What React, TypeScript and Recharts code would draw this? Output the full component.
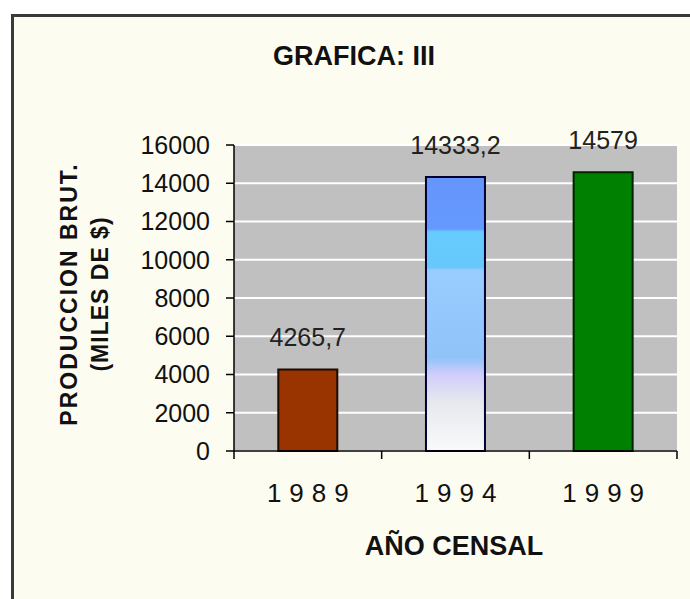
import { Bar, BarChart, CartesianGrid, Cell, LabelList, XAxis, YAxis } from "recharts";

const years = ["1989", "1994", "1999"];
const production = [4265.7, 14333.2, 14579];
const yTicks = [0, 2000, 4000, 6000, 8000, 10000, 12000, 14000, 16000];
const barFills = ["#993300", "url(#bar1994)", "#008000"];
const barStrokes = ["#1a0a00", "#000033", "#002200"];

const data = years.map((year, i) => ({ year, value: production[i] }));

const FONT = "'Liberation Sans', Arial, sans-serif";

function YearTick(props: any) {
  const { x, y, payload, index } = props;
  const half = payload.offset ?? 0;
  const axisY = y - 8;
  return (
    <g>
      <line x1={x - half} x2={x - half} y1={axisY} y2={axisY + 8} stroke="#000" strokeWidth={1.5} />
      {index === years.length - 1 && (
        <line x1={x + half} x2={x + half} y1={axisY} y2={axisY + 8} stroke="#000" strokeWidth={1.5} />
      )}
      <text
        x={x + 4}
        y={axisY + 51}
        textAnchor="middle"
        fontFamily={FONT}
        fontSize={26}
        letterSpacing={8}
        fill="#111"
      >
        {payload.value}
      </text>
    </g>
  );
}

export default function App() {
  return (
    <div style={{ position: "absolute", left: 0, top: 0, width: 690, height: 599, overflow: "hidden", background: "#fff" }}>
      <div
        style={{
          position: "absolute",
          left: 11,
          top: 14,
          width: 720,
          height: 640,
          border: "3px solid #3a3a3a",
          background: "#fdfcf1",
          boxSizing: "border-box",
        }}
      />
      <div style={{ position: "absolute", left: 0, top: 0 }}>
        <BarChart
          width={690}
          height={599}
          data={data}
          margin={{ top: 145, right: 13, bottom: 88, left: 0 }}
          barCategoryGap="30%"
        >
          <defs>
            <linearGradient id="bar1994" x1="0" y1="0" x2="0" y2="1">
              <stop offset="0" stopColor="#6495fa" />
              <stop offset="0.19" stopColor="#6699ff" />
              <stop offset="0.2" stopColor="#66ccff" />
              <stop offset="0.33" stopColor="#66c8fb" />
              <stop offset="0.34" stopColor="#99ccff" />
              <stop offset="0.66" stopColor="#90c4f8" />
              <stop offset="0.72" stopColor="#d0cdfb" />
              <stop offset="0.82" stopColor="#e6e8ee" />
              <stop offset="1" stopColor="#fafafa" />
            </linearGradient>
          </defs>
          <CartesianGrid vertical={false} stroke="#fff" strokeWidth={2} fill="#c0c0c0" />
          <XAxis
            dataKey="year"
            height={60}
            axisLine={{ stroke: "#000", strokeWidth: 1.5 }}
            tickLine={false}
            tickSize={8}
            tickMargin={0}
            tick={<YearTick />}
            interval={0}
          />
          <YAxis
            width={234}
            domain={[0, 16000]}
            ticks={yTicks}
            interval={0}
            axisLine={{ stroke: "#000", strokeWidth: 1.5 }}
            tickLine={{ stroke: "#000", strokeWidth: 1.5 }}
            tickSize={8}
            tickMargin={16}
            tick={{ fontFamily: FONT, fontSize: 25, fill: "#111" }}
          />
          <Bar dataKey="value" isAnimationActive={false} strokeWidth={2}>
            {data.map((d, i) => (
              <Cell key={d.year} fill={barFills[i]} stroke={barStrokes[i]} />
            ))}
            <LabelList
              dataKey="value"
              position="top"
              offset={23}
              formatter={(v: any) => String(v).replace(".", ",")}
              style={{ fontFamily: FONT, fontSize: 25, fill: "#222" }}
            />
          </Bar>
        </BarChart>
      </div>
      <svg width={690} height={599} style={{ position: "absolute", left: 0, top: 0, pointerEvents: "none" }}>
        <text x={354} y={65} textAnchor="middle" fontFamily={FONT} fontWeight="bold" fontSize={27} fill="#111">
          GRAFICA: III
        </text>
        <text x={454} y={555} textAnchor="middle" fontFamily={FONT} fontWeight="bold" fontSize={27} fill="#111">
          AÑO CENSAL
        </text>
        <text
          transform="rotate(-90, 77, 294)"
          x={77}
          y={294}
          textAnchor="middle"
          fontFamily={FONT}
          fontWeight="bold"
          fontSize={23}
          letterSpacing={2}
          fill="#111"
        >
          PRODUCCION BRUT.
        </text>
        <text
          transform="rotate(-90, 108, 294)"
          x={108}
          y={294}
          textAnchor="middle"
          fontFamily={FONT}
          fontWeight="bold"
          fontSize={23}
          letterSpacing={1}
          fill="#111"
        >
          (MILES DE $)
        </text>
      </svg>
    </div>
  );
}
